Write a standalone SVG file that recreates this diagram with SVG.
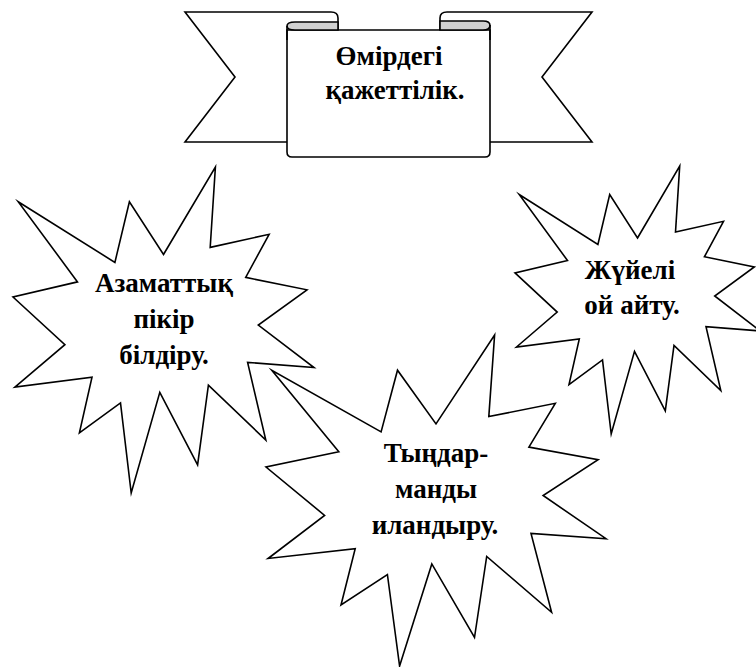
<svg xmlns="http://www.w3.org/2000/svg" width="756" height="667" viewBox="0 0 756 667">
<defs>
<style>
.ln{fill:#fff;stroke:#000;stroke-width:1.6;stroke-linejoin:miter}
.gr{fill:#d0d0d0;stroke:#000;stroke-width:1.6}
.st{fill:#fff;stroke:#000;stroke-width:1.6;stroke-linejoin:miter;stroke-miterlimit:10}
.tx{font-family:"Liberation Serif","Times New Roman",serif;font-weight:bold;font-size:27px;fill:#000;text-anchor:middle}
</style>
</defs>
<g id="banner">
<path class="ln" d="M338,30 L338,18 Q338,12 331,12 L185,12 L235,77 L185,142 L300,142 L300,30 Z"/>
<path class="ln" d="M440,30 L440,18 Q440,12 447,12 L592,12 L542,77 L592,142 L480,142 L480,30 Z"/>
<path class="ln" d="M287,30 L490,30 L490,152 Q490,157 485,157 L292,157 Q287,157 287,152 Z"/>
<path class="gr" d="M338,22 L295,22 Q287,22 287,26 Q287,30 295,30 L338,30 Z"/>
<path class="gr" d="M440,21 L483,21 Q490,21 490,25.5 Q490,30 483,30 L440,30 Z"/>
<path d="M287,26 L287,40 M490,25 L490,40" stroke="#000" stroke-width="1.6" fill="none"/>
<text class="tx" x="389" y="65">Өмірдегі</text>
<text class="tx" x="395" y="99">қажеттілік.</text>
</g>
<g id="star-left">
<polygon class="st" points="163.5,254.5 215.4,167 210.2,247.4 269.1,234.3 245.7,277.4 307,289.8 258.3,325.1 314,367.6 247.6,362.4 265.8,440.1 208.4,385.2 197.6,464.9 159.8,392.4 131.2,493 120.5,402.9 79.4,432.9 92,377.3 14.9,387.1 64.9,344.7 13,297 77.5,281.9 18.2,201.7 114.9,262.4 129.4,201.7"/>
<text class="tx" x="164" y="292">Азаматтық</text>
<text class="tx" x="164" y="328">пікір</text>
<text class="tx" x="164" y="364">білдіру.</text>
</g>
<g id="star-right">
<polygon class="st" points="637.5,238 679.7,166 675.5,232.1 723.5,221.3 704.4,256.8 754.3,267 714.7,296 760,330.9 706,326.6 720.8,390.5 674,345.4 665.3,410.9 634.5,351.3 611.2,434 602.5,359.9 569,384.6 579.3,338.9 516.5,347 557.2,312.1 515,272.9 567.5,260.5 519.2,194.5 597.9,244.4 609.7,194.5"/>
<text class="tx" x="630" y="279">Жүйелі</text>
<text class="tx" x="632" y="314">ой айту.</text>
</g>
<g id="star-bottom">
<polygon class="st" points="436,423.9 494.6,335 488.8,416.6 555.3,403.3 528.9,447.1 598.1,459.7 543.1,495.5 606,538.7 531,533.4 551.6,612.3 486.7,556.5 474.5,637.5 431.8,563.9 399.6,666 387.4,574.5 341,605 355.2,548.6 268.1,558.5 324.6,515.4 266,467 338.8,451.7 271.8,370.2 381.1,431.9 397.5,370.2"/>
<text class="tx" x="436" y="462">Тыңдар-</text>
<text class="tx" x="436" y="498">манды</text>
<text class="tx" x="435" y="534">иландыру.</text>
</g>
<g id="connectors"></g>
</svg>
